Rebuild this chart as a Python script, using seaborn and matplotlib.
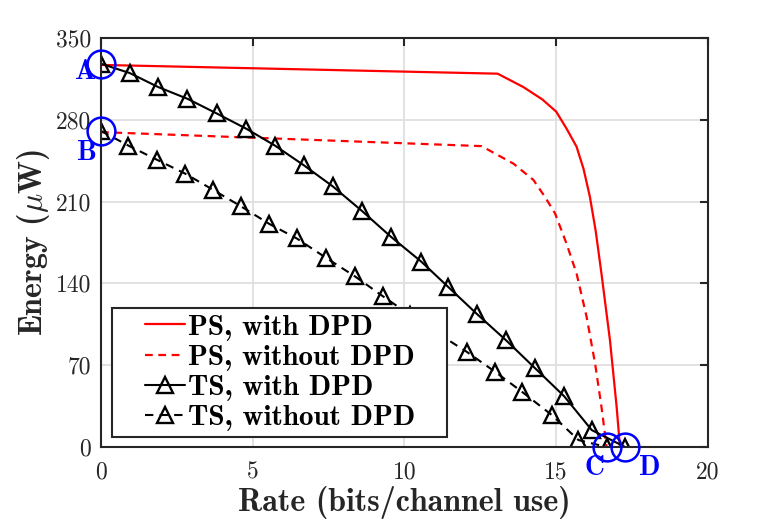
import matplotlib
matplotlib.use('Agg')
import matplotlib.pyplot as plt
from matplotlib.legend_handler import HandlerLine2D
import seaborn as sns
import numpy as np

# values
rate_ps = [0, 13.07, 13.92, 14.54, 15.0, 15.34, 15.67, 15.9, 16.11, 16.3, 16.49, 16.77, 16.99, 17.1]
energy_ps = [327, 319.5, 308, 297.5, 287, 272.5, 257, 238, 214, 185, 148.5, 91.5, 34.5, 0]

rate_ps_nodpd = [0, 12.54, 13.59, 14.25, 14.63, 14.96, 15.34, 15.67, 16.0, 16.28, 16.49, 16.66]
energy_ps_nodpd = [269.5, 257.5, 242.5, 228.5, 214, 200, 174, 148.5, 111.5, 71.5, 34.5, 0]

rate_ts = [0, 0.95, 1.89, 2.85, 3.81, 4.78, 5.73, 6.69, 7.64, 8.6, 9.55,
           10.56, 11.44, 12.38, 13.34, 14.3, 15.26, 16.17, 17.27]
energy_ts = [328, 320, 308, 298, 285.5, 272.5, 258, 241, 223, 202, 180,
             158.5, 137, 114, 91.5, 67.5, 43.5, 14.5, 0]

rate_ts_nodpd = [0, 0.9, 1.83, 2.77, 3.7, 4.61, 5.54, 6.45, 7.41, 8.37, 9.29,
                 10.18, 11.11, 12.05, 12.98, 13.86, 14.85, 15.73, 16.66]
energy_ts_nodpd = [270.5, 258, 246, 234, 220, 206, 191, 178.5, 162, 146, 129,
                   113, 97, 81.5, 64.5, 47.5, 27.5, 6, 0]


# legend sample drawn only in the right part of the handle box (matlab look)
class RightLine(HandlerLine2D):
    def get_xdata(self, legend, xdescent, ydescent, width, height, fontsize):
        x0 = -xdescent + width * 0.4
        x1 = -xdescent + width
        return np.array([x0, x1]), np.array([(x0 + x1) / 2])


sns.set_style('whitegrid')
plt.rcParams['font.family'] = ['cmr10', 'DejaVu Serif']
plt.rcParams['mathtext.fontset'] = 'cm'
plt.rcParams['axes.unicode_minus'] = False

fig = plt.figure(figsize=(7.81, 5.21), dpi=100)
ax = fig.add_axes([0.1293, 0.142, 0.7772, 0.785])

sns.lineplot(x=rate_ps, y=energy_ps, ax=ax, color='#ff0000', lw=1.6,
             label='PS, with DPD')
sns.lineplot(x=rate_ps_nodpd, y=energy_ps_nodpd, ax=ax, color='#ff0000', lw=1.6,
             linestyle=(0, (3.5, 2.5)), label='PS, without DPD')
sns.lineplot(x=rate_ts, y=energy_ts, ax=ax, color='black', lw=1.5,
             marker='^', markersize=11, markerfacecolor='none',
             markeredgecolor='black', markeredgewidth=1.7, label='TS, with DPD')
sns.lineplot(x=rate_ts_nodpd, y=energy_ts_nodpd, ax=ax, color='black', lw=1.5,
             linestyle=(0, (4, 3)), marker='^', markersize=11, markerfacecolor='none',
             markeredgecolor='black', markeredgewidth=1.7, label='TS, without DPD')

# blue circles marking the corner points A, B, C, D
pts = [(rate_ts[0], energy_ts[0], 'A', (-11, -6)),
       (rate_ts_nodpd[0], energy_ts_nodpd[0], 'B', (-10, -16)),
       (rate_ts_nodpd[-1], energy_ts_nodpd[-1], 'C', (-9, -15)),
       (rate_ts[-1], energy_ts[-1], 'D', (18, -15))]
for px, py, lab, off in pts:
    ax.plot(px, py, marker='o', markersize=20, markerfacecolor='none',
            markeredgecolor='#0000ff', markeredgewidth=1.8, clip_on=False, zorder=6)
    ax.annotate(lab, (px, py), xytext=off, textcoords='offset points',
                ha='center', va='center', color='#0000ff', fontsize=20,
                family='cmb10', annotation_clip=False)

ax.set_xlim(0, 20)
ax.set_ylim(0, 350)
ax.set_xticks([0, 5, 10, 15, 20])
ax.set_yticks([0, 70, 140, 210, 280, 350])
ax.grid(True, color='#dfdfdf', lw=1.3)
for s in ax.spines.values():
    s.set_color('#262626')
    s.set_linewidth(1.5)
    s.set_visible(True)
ax.tick_params(direction='in', length=6, width=1.5, color='#262626',
               top=True, right=True, labelsize=17, labelcolor='#262626')
ax.tick_params(axis='x', pad=10)
ax.tick_params(axis='y', pad=7)
ax.set_xlabel('Rate (bits/channel use)', fontsize=23, family='cmb10',
              color='#262626', labelpad=2)
ax.set_ylabel(r'Energy ($\mu$W)', fontsize=23, family='cmb10',
              color='#262626', labelpad=3)

handles, labels = ax.get_legend_handles_labels()
leg = ax.legend(handles, labels, loc='lower left',
                bbox_to_anchor=(0.0181, 0.0244, 0.552, 0.323), mode='expand',
                borderaxespad=0, fancybox=False, framealpha=1, edgecolor='#262626',
                prop={'family': 'cmb10', 'size': 21}, handlelength=2.3,
                handletextpad=0.1, labelspacing=0.13, borderpad=0.2,
                handler_map={h: RightLine(numpoints=1) for h in handles})
leg.get_frame().set_linewidth(1.5)
for t in leg.get_texts():
    t.set_color('black')

fig.savefig('out.png', dpi=100)
